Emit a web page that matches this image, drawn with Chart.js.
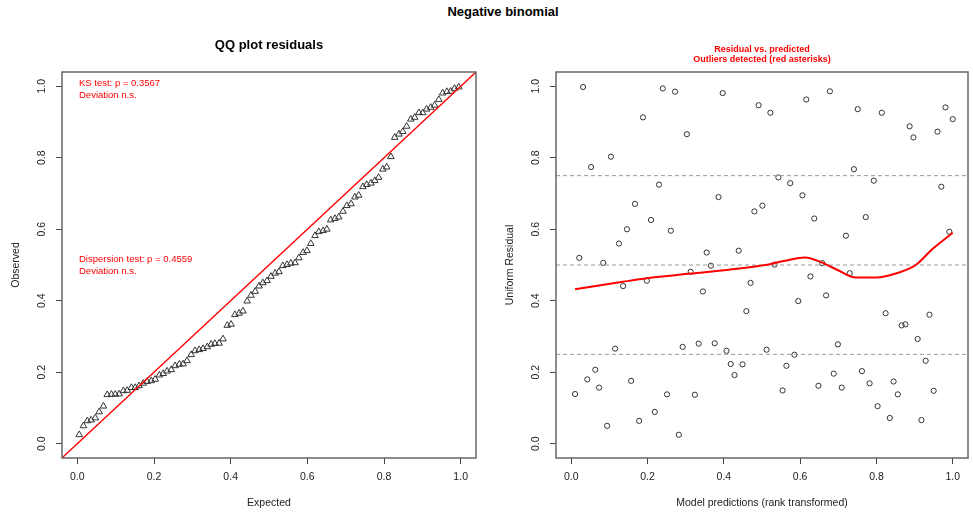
<!DOCTYPE html>
<html>
<head>
<meta charset="utf-8">
<title>Negative binomial</title>
<script src="https://cdn.jsdelivr.net/npm/chart.js@4.4.1/dist/chart.umd.min.js"></script>
<style>
  body { margin: 0; background: #fff; width: 973px; height: 512px; overflow: hidden; position: relative;
         font-family: "Liberation Sans", Arial, sans-serif; }
  #mainTitle { position: absolute; top: 4px; left: 0; width: 1006px; text-align: center;
               font-weight: bold; font-size: 13px; line-height: 16px; color: #000; }
  .panel { position: absolute; top: 0; height: 512px; }
</style>
</head>
<body>
<div id="mainTitle">Negative binomial</div>
<div class="panel" style="left:0;width:486px"><canvas id="qqChart" width="486" height="512"></canvas></div>
<div class="panel" style="left:486px;width:487px"><canvas id="resChart" width="487" height="512"></canvas></div>

<script>
// --- data (96 simulated residuals)
const tickValues = [0, 0.2, 0.4, 0.6, 0.8, 1.0];
const axisRange = [-0.04, 1.04];

// QQ plot: expected uniform quantiles vs observed (sorted) residuals
const qqExpected = [
  0.005, 0.016, 0.026, 0.036, 0.047, 0.057, 0.068, 0.078, 0.089, 0.099,
  0.109, 0.120, 0.130, 0.141, 0.151, 0.161, 0.172, 0.182, 0.193, 0.203,
  0.214, 0.224, 0.234, 0.245, 0.255, 0.266, 0.276, 0.286, 0.297, 0.307,
  0.318, 0.328, 0.339, 0.349, 0.359, 0.370, 0.380, 0.391, 0.401, 0.411,
  0.422, 0.432, 0.443, 0.453, 0.464, 0.474, 0.484, 0.495, 0.505, 0.516,
  0.526, 0.536, 0.547, 0.557, 0.568, 0.578, 0.589, 0.599, 0.609, 0.620,
  0.630, 0.641, 0.651, 0.661, 0.672, 0.682, 0.693, 0.703, 0.714, 0.724,
  0.734, 0.745, 0.755, 0.766, 0.776, 0.786, 0.797, 0.807, 0.818, 0.828,
  0.839, 0.849, 0.859, 0.870, 0.880, 0.891, 0.901, 0.911, 0.922, 0.932,
  0.943, 0.953, 0.964, 0.974, 0.984, 0.995
];
const qqObserved = [
  0.025, 0.050, 0.064, 0.066, 0.072, 0.089, 0.105, 0.137, 0.138, 0.138,
  0.139, 0.148, 0.149, 0.157, 0.157, 0.162, 0.169, 0.174, 0.176, 0.180,
  0.192, 0.196, 0.203, 0.207, 0.218, 0.222, 0.223, 0.232, 0.249, 0.260,
  0.263, 0.266, 0.271, 0.278, 0.280, 0.281, 0.293, 0.331, 0.334, 0.361,
  0.365, 0.371, 0.399, 0.415, 0.426, 0.441, 0.450, 0.456, 0.468, 0.477,
  0.481, 0.498, 0.501, 0.505, 0.506, 0.520, 0.535, 0.540, 0.560, 0.582,
  0.593, 0.596, 0.600, 0.626, 0.630, 0.634, 0.650, 0.666, 0.671, 0.690,
  0.695, 0.719, 0.725, 0.729, 0.736, 0.745, 0.768, 0.774, 0.803, 0.857,
  0.866, 0.873, 0.888, 0.908, 0.913, 0.926, 0.926, 0.936, 0.941, 0.947,
  0.963, 0.981, 0.985, 0.986, 0.994, 0.998
];

// residual vs predicted: rank-transformed predictions and uniform residuals
const predRank = [
  0.010, 0.021, 0.031, 0.042, 0.052, 0.063, 0.073, 0.084, 0.094, 0.104,
  0.115, 0.125, 0.136, 0.146, 0.157, 0.167, 0.178, 0.188, 0.198, 0.209,
  0.219, 0.230, 0.240, 0.251, 0.261, 0.272, 0.282, 0.292, 0.303, 0.313,
  0.324, 0.334, 0.345, 0.355, 0.366, 0.376, 0.386, 0.397, 0.407, 0.418,
  0.428, 0.439, 0.449, 0.459, 0.470, 0.480, 0.491, 0.501, 0.512, 0.522,
  0.533, 0.543, 0.554, 0.564, 0.574, 0.585, 0.595, 0.606, 0.616, 0.627,
  0.637, 0.648, 0.658, 0.668, 0.678, 0.688, 0.699, 0.709, 0.720, 0.730,
  0.741, 0.751, 0.762, 0.772, 0.782, 0.793, 0.803, 0.814, 0.824, 0.835,
  0.845, 0.856, 0.866, 0.876, 0.887, 0.897, 0.908, 0.918, 0.929, 0.939,
  0.950, 0.960, 0.970, 0.981, 0.991, 1.000
];
const residual = [
  0.139, 0.520, 0.998, 0.180, 0.774, 0.207, 0.157, 0.506, 0.050, 0.803,
  0.266, 0.560, 0.441, 0.600, 0.176, 0.671, 0.064, 0.913, 0.456, 0.626,
  0.089, 0.725, 0.994, 0.138, 0.596, 0.985, 0.025, 0.271, 0.866, 0.481,
  0.137, 0.280, 0.426, 0.535, 0.498, 0.281, 0.690, 0.981, 0.260, 0.223,
  0.192, 0.540, 0.222, 0.371, 0.450, 0.650, 0.947, 0.666, 0.263, 0.926,
  0.501, 0.745, 0.149, 0.218, 0.729, 0.249, 0.399, 0.695, 0.963, 0.468,
  0.630, 0.162, 0.505, 0.415, 0.986, 0.196, 0.278, 0.157, 0.582, 0.477,
  0.768, 0.936, 0.203, 0.634, 0.169, 0.736, 0.105, 0.926, 0.365, 0.072,
  0.174, 0.138, 0.331, 0.334, 0.888, 0.857, 0.293, 0.066, 0.232, 0.361,
  0.148, 0.873, 0.719, 0.941, 0.593, 0.908
];

// smoother through the residuals
const smoothX = [0.010, 0.135, 0.198, 0.313, 0.413, 0.509, 0.560, 0.613, 0.659, 0.702, 0.746, 0.798, 0.859, 0.903, 0.946, 1.000];
const smoothY = [0.432, 0.453, 0.463, 0.476, 0.487, 0.500, 0.512, 0.521, 0.506, 0.484, 0.465, 0.465, 0.479, 0.500, 0.544, 0.590];

const quantileLevels = [0.25, 0.5, 0.75];

const ksNote = ['KS test: p = 0.3567', 'Deviation n.s.'];
const dispNote = ['Dispersion test: p = 0.4559', 'Deviation n.s.'];

// --- helpers
const FONT = '"Liberation Sans", Arial, sans-serif';
const pairs = (xs, ys) => xs.map((x, i) => ({ x, y: ys[i] }));

// box around the plot + titles and red notes, R style
const rPanel = {
  id: 'rPanel',
  afterDatasetsDraw(chart) {
    const { ctx, chartArea: a } = chart;
    ctx.save();
    ctx.strokeStyle = '#666';
    ctx.lineWidth = 1.5;
    ctx.strokeRect(a.left, a.top, a.right - a.left, a.bottom - a.top);
    ctx.restore();
  },
  afterDraw(chart, args, opts) {
    const { ctx, chartArea: a } = chart;
    const cx = (a.left + a.right) / 2;
    ctx.save();
    ctx.textBaseline = 'middle';
    ctx.textAlign = 'center';
    ctx.fillStyle = opts.titleColor;
    ctx.font = `bold ${opts.titleSize}px ${FONT}`;
    opts.title.forEach((t, i) => ctx.fillText(t, cx, opts.titleY + i * opts.titleLead));
    ctx.textAlign = 'left';
    ctx.fillStyle = 'red';
    ctx.font = `9.5px ${FONT}`;
    (opts.notes || []).forEach(n => {
      n.lines.forEach((t, i) => ctx.fillText(t, a.left + 17, n.y + i * 12.3));
    });
    ctx.restore();
  }
};

function axis(title, isX, size, titlePad) {
  return {
    type: 'linear',
    min: axisRange[0],
    max: axisRange[1],
    afterBuildTicks: s => { s.ticks = tickValues.map(v => ({ value: v })); },
    afterFit: s => { if (isX) s.height = size; else s.width = size; },
    grid: { display: true, drawOnChartArea: false, drawTicks: true, tickLength: 6, color: '#444' },
    border: { display: false },
    ticks: {
      callback: v => v.toFixed(1),
      color: '#222',
      font: { family: FONT, size: 10.5 },
      padding: 7,
      minRotation: isX ? 0 : 90,
      maxRotation: isX ? 0 : 90,
      crossAlign: isX ? 'near' : 'center'
    },
    title: {
      display: true,
      text: title,
      color: '#222',
      font: { family: FONT, size: 10.5 },
      padding: titlePad
    }
  };
}

const common = {
  responsive: false,
  animation: false,
  events: [],
  plugins: { legend: { display: false }, tooltip: { enabled: false } }
};

// --- QQ plot
new Chart(document.getElementById('qqChart'), {
  type: 'scatter',
  data: {
    datasets: [
      {
        type: 'line',
        data: pairs(axisRange, axisRange),
        borderColor: 'red',
        borderWidth: 1.3,
        pointRadius: 0,
        showLine: true
      },
      {
        data: pairs(qqExpected, qqObserved),
        pointStyle: 'triangle',
        pointRadius: 3.8,
        borderColor: '#333',
        borderWidth: 1,
        backgroundColor: 'rgba(0,0,0,0)'
      }
    ]
  },
  options: {
    ...common,
    layout: { padding: { left: 0, right: 10, top: 72, bottom: 0 } },
    scales: {
      x: axis('Expected', true, 54, { top: 0, bottom: 2.4 }),
      y: axis('Observed', false, 62, { top: 10, bottom: 0 })
    },
    plugins: {
      ...common.plugins,
      rPanel: {
        title: ['QQ plot residuals'], titleColor: '#000', titleSize: 13, titleY: 45.5, titleLead: 0,
        notes: [{ lines: ksNote, y: 83.5 }, { lines: dispNote, y: 259 }]
      }
    }
  },
  plugins: [rPanel]
});

// --- residual vs predicted
const quartileSets = quantileLevels.map(q => ({
  type: 'line',
  data: pairs(axisRange, [q, q]),
  borderColor: '#999',
  borderWidth: 1,
  borderDash: [4, 3],
  pointRadius: 0,
  showLine: true
}));

new Chart(document.getElementById('resChart'), {
  type: 'scatter',
  data: {
    datasets: [
      {
        type: 'line',
        data: pairs(smoothX, smoothY),
        borderColor: 'red',
        borderWidth: 2,
        pointRadius: 0,
        showLine: true,
        cubicInterpolationMode: 'monotone'
      },
      ...quartileSets,
      {
        data: pairs(predRank, residual),
        pointStyle: 'circle',
        pointRadius: 2.6,
        borderColor: '#333',
        borderWidth: 1,
        backgroundColor: 'rgba(0,0,0,0)'
      }
    ]
  },
  options: {
    ...common,
    layout: { padding: { left: 0, right: 3, top: 72, bottom: 0 } },
    scales: {
      x: axis('Model predictions (rank transformed)', true, 54, { top: 0, bottom: 2.4 }),
      y: axis('Uniform Residual', false, 70, { top: 18, bottom: 0 })
    },
    plugins: {
      ...common.plugins,
      rPanel: {
        title: ['Residual vs. predicted', 'Outliers detected (red asterisks)'],
        titleColor: 'red', titleSize: 9, titleY: 49.3, titleLead: 10.7
      }
    }
  },
  plugins: [rPanel]
});
</script>
</body>
</html>
